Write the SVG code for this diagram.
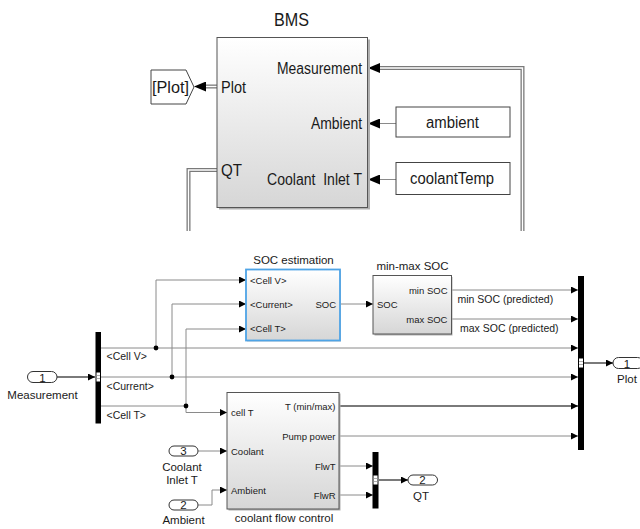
<svg xmlns="http://www.w3.org/2000/svg" width="640" height="529" viewBox="0 0 640 529">
<style>
text{font-family:"Liberation Sans",Arial,sans-serif;fill:#1a1a1a}
.big{font-size:16px}
.t{font-size:11.5px}
.p{font-size:9.5px}
.s{font-size:10.5px}
.blk{fill:url(#g);stroke:#555;stroke-width:1}
.shd{fill:#b0b0b0}
.w{fill:none;stroke:#8a8a8a;stroke-width:1}
.wt{fill:none;stroke:#7a7a7a;stroke-width:2}
.dbo{fill:none;stroke:#7a7a7a;stroke-width:4}
.dbi{fill:none;stroke:#fff;stroke-width:1.4}
.a{marker-end:url(#ar)}
.bar{fill:#000}
.port{fill:#fff;stroke:#333;stroke-width:1}
.dot{fill:#000}
</style>
<defs>
<linearGradient id="g" x1="0" y1="0" x2="0" y2="1">
<stop offset="0" stop-color="#ffffff"/>
<stop offset="1" stop-color="#d6d6d6"/>
</linearGradient>
<marker id="ar" markerUnits="userSpaceOnUse" markerWidth="7" markerHeight="7" refX="7" refY="3.5" orient="auto">
<path d="M0,0 L7,3.5 L0,7 z" fill="#000"/>
</marker>
<marker id="arb" markerUnits="userSpaceOnUse" markerWidth="12" markerHeight="10" refX="12" refY="5" orient="auto">
<path d="M0,0 L12,5 L0,10 z" fill="#000"/>
</marker>
</defs>

<g id="connectors">
<!-- top section -->
<path class="dbo" d="M380 68 H522.5 V231"/>
<path class="dbi" d="M380 68 H522.5 V231"/>
<path class="dbo" d="M217 170 H188.5 V231"/>
<path class="dbi" d="M217 170 H188.5 V231"/>
<path class="dbo" d="M217 86.5 H203"/>
<path class="dbi" d="M217 86.5 H203"/>
<path d="M206 86.5 H194" fill="none" stroke="none" style="marker-end:url(#arb)"/>
<path d="M392 68 H368" fill="none" stroke="none" style="marker-end:url(#arb)"/>
<path class="w" d="M396 123.5 H380"/>
<path d="M392 123.5 H368" fill="none" stroke="none" style="marker-end:url(#arb)"/>
<path class="w" d="M396 179.5 H380"/>
<path d="M392 179.5 H368" fill="none" stroke="none" style="marker-end:url(#arb)"/>
<!-- lower section -->
<path class="wt a" d="M57 377 H95"/>
<path class="w a" d="M101 348 H578"/>
<path class="w a" d="M101 377 H578"/>
<path class="w" d="M101 406 H186"/>
<path class="w a" d="M156 348 V280 H246"/>
<path class="w a" d="M172 377 V304 H246"/>
<path class="w a" d="M186 406 V329 H246"/>
<path class="w a" d="M186 406 V412.5 H227"/>
<path class="w a" d="M340 304 H373"/>
<path class="w a" d="M452 290 H578"/>
<path class="w a" d="M452 319 H578"/>
<path class="wt a" d="M339 406 H578"/>
<path class="w a" d="M339 436 H578"/>
<path class="w a" d="M198 451 H227"/>
<path class="w a" d="M198 505 H212 V490 H227"/>
<path class="w a" d="M339 466 H373"/>
<path class="w a" d="M339 495 H373"/>
<path class="wt a" d="M379 480 H408"/>
<path class="wt a" d="M584 363 H613"/>
<circle class="dot" cx="156" cy="348" r="2.4"/>
<circle class="dot" cx="172" cy="377" r="2.4"/>
<circle class="dot" cx="186" cy="406" r="2.4"/>
</g>

<g id="bms">
<text class="big" x="274" y="26" style="font-size:18px" textLength="35" lengthAdjust="spacingAndGlyphs">BMS</text>
<rect class="shd" x="219" y="39.5" width="151" height="170"/>
<rect class="blk" x="217" y="37.5" width="150.5" height="170" stroke="#444"/>
<text class="big" x="277" y="74" textLength="85" lengthAdjust="spacingAndGlyphs">Measurement</text>
<text class="big" x="221" y="93" textLength="25" lengthAdjust="spacingAndGlyphs">Plot</text>
<text class="big" x="311" y="129" textLength="51" lengthAdjust="spacingAndGlyphs">Ambient</text>
<text class="big" x="221" y="176" textLength="21" lengthAdjust="spacingAndGlyphs">QT</text>
<text class="big" x="267" y="185" style="white-space:pre" textLength="95" lengthAdjust="spacingAndGlyphs">Coolant  Inlet T</text>
</g>

<g id="goto-plot">
<polygon points="151,70 186,70 194,87 186,104 151,104" fill="#fff" stroke="#444" stroke-width="1"/>
<text class="big" x="152" y="93" textLength="37" lengthAdjust="spacingAndGlyphs">[Plot]</text>
</g>

<g id="from-ambient">
<rect x="396" y="107" width="114" height="30" fill="#fff" stroke="#444" stroke-width="1"/>
<text class="big" x="426" y="128" textLength="53" lengthAdjust="spacingAndGlyphs">ambient</text>
</g>

<g id="from-coolantTemp">
<rect x="396" y="162.5" width="114" height="32" fill="#fff" stroke="#444" stroke-width="1"/>
<text class="big" x="410" y="184" textLength="84" lengthAdjust="spacingAndGlyphs">coolantTemp</text>
</g>

<g id="in-measurement">
<rect class="port" x="27.5" y="371.5" width="29.5" height="11" rx="5.5"/>
<text class="t" x="42.5" y="381.5" text-anchor="middle">1</text>
<text class="t" x="42.5" y="398.5" text-anchor="middle">Measurement</text>
</g>

<g id="mux-left">
<rect class="bar" x="95.5" y="332" width="5.5" height="91.5"/>
<rect x="96.5" y="372.5" width="3.5" height="9" fill="#fff"/>
<path d="M96.5 375.5 H100 M96.5 378.5 H100" stroke="#999" stroke-width="0.8"/>
<text class="s" x="106.5" y="360">&lt;Cell V&gt;</text>
<text class="s" x="106.5" y="389.5">&lt;Current&gt;</text>
<text class="s" x="106.5" y="418.5">&lt;Cell T&gt;</text>
</g>

<g id="soc-estimation">
<text class="t" x="293.5" y="264" text-anchor="middle">SOC estimation</text>
<rect x="247" y="270.5" width="94" height="71" fill="#c8c8c8"/>
<rect x="246" y="269.5" width="94" height="71" fill="url(#g)" stroke="#4ea4e6" stroke-width="1.8"/>
<text class="p" x="250" y="283.5">&lt;Cell V&gt;</text>
<text class="p" x="250" y="307.5">&lt;Current&gt;</text>
<text class="p" x="250" y="331.5">&lt;Cell T&gt;</text>
<text class="p" x="336" y="307.5" text-anchor="end">SOC</text>
</g>

<g id="min-max-soc">
<text class="t" x="412.5" y="269.5" text-anchor="middle">min-max SOC</text>
<rect class="shd" x="374.5" y="277" width="78" height="58.5"/>
<rect class="blk" x="373" y="275.5" width="78.5" height="58.5"/>
<text class="p" x="377" y="307.5">SOC</text>
<text class="p" x="447.5" y="293.5" text-anchor="end">min SOC</text>
<text class="p" x="447.5" y="322.5" text-anchor="end">max SOC</text>
</g>

<g id="signal-labels">
<text class="s" x="457.5" y="302.5">min SOC (predicted)</text>
<text class="s" x="460" y="331.5">max SOC (predicted)</text>
</g>

<g id="mux-right">
<rect class="bar" x="578" y="276" width="6" height="174"/>
<rect x="579" y="358.5" width="4" height="9" fill="#fff"/>
<path d="M579 361.5 H583 M579 364.5 H583" stroke="#999" stroke-width="0.8"/>
</g>

<g id="out-plot">
<rect class="port" x="613" y="357.5" width="30" height="11" rx="5.5"/>
<text class="t" x="627" y="367.5" text-anchor="middle">1</text>
<text class="t" x="627" y="383" text-anchor="middle">Plot</text>
</g>

<g id="coolant-flow-control">
<rect class="shd" x="228.5" y="393.5" width="112" height="117"/>
<rect class="blk" x="227" y="392.5" width="112" height="116.5"/>
<text class="p" x="231" y="415.5">cell T</text>
<text class="p" x="231" y="454.5">Coolant</text>
<text class="p" x="231" y="493.5">Ambient</text>
<text class="p" x="335.5" y="409.5" text-anchor="end">T (min/max)</text>
<text class="p" x="335.5" y="439.5" text-anchor="end">Pump power</text>
<text class="p" x="335.5" y="469.5" text-anchor="end">FlwT</text>
<text class="p" x="335.5" y="499" text-anchor="end">FlwR</text>
<text class="t" x="284" y="521.5" text-anchor="middle">coolant flow control</text>
</g>

<g id="in-coolant">
<rect class="port" x="169" y="446" width="29" height="10" rx="5"/>
<text class="t" x="183.5" y="455" text-anchor="middle">3</text>
<text class="t" x="182" y="470.5" text-anchor="middle">Coolant</text>
<text class="t" x="182" y="484" text-anchor="middle">Inlet T</text>
</g>

<g id="in-ambient">
<rect class="port" x="169" y="500" width="29" height="10" rx="5"/>
<text class="t" x="183.5" y="509" text-anchor="middle">2</text>
<text class="t" x="183.5" y="524" text-anchor="middle">Ambient</text>
</g>

<g id="mux-qt">
<rect class="bar" x="372.5" y="452" width="6" height="56.5"/>
<rect x="373.5" y="475.5" width="4" height="9" fill="#fff"/>
<path d="M373.5 478.5 H377.5 M373.5 481.5 H377.5" stroke="#999" stroke-width="0.8"/>
</g>

<g id="out-qt">
<rect class="port" x="408" y="475" width="29.5" height="10" rx="5"/>
<text class="t" x="422.5" y="484" text-anchor="middle">2</text>
<text class="t" x="421" y="500" text-anchor="middle">QT</text>
</g>
</svg>
